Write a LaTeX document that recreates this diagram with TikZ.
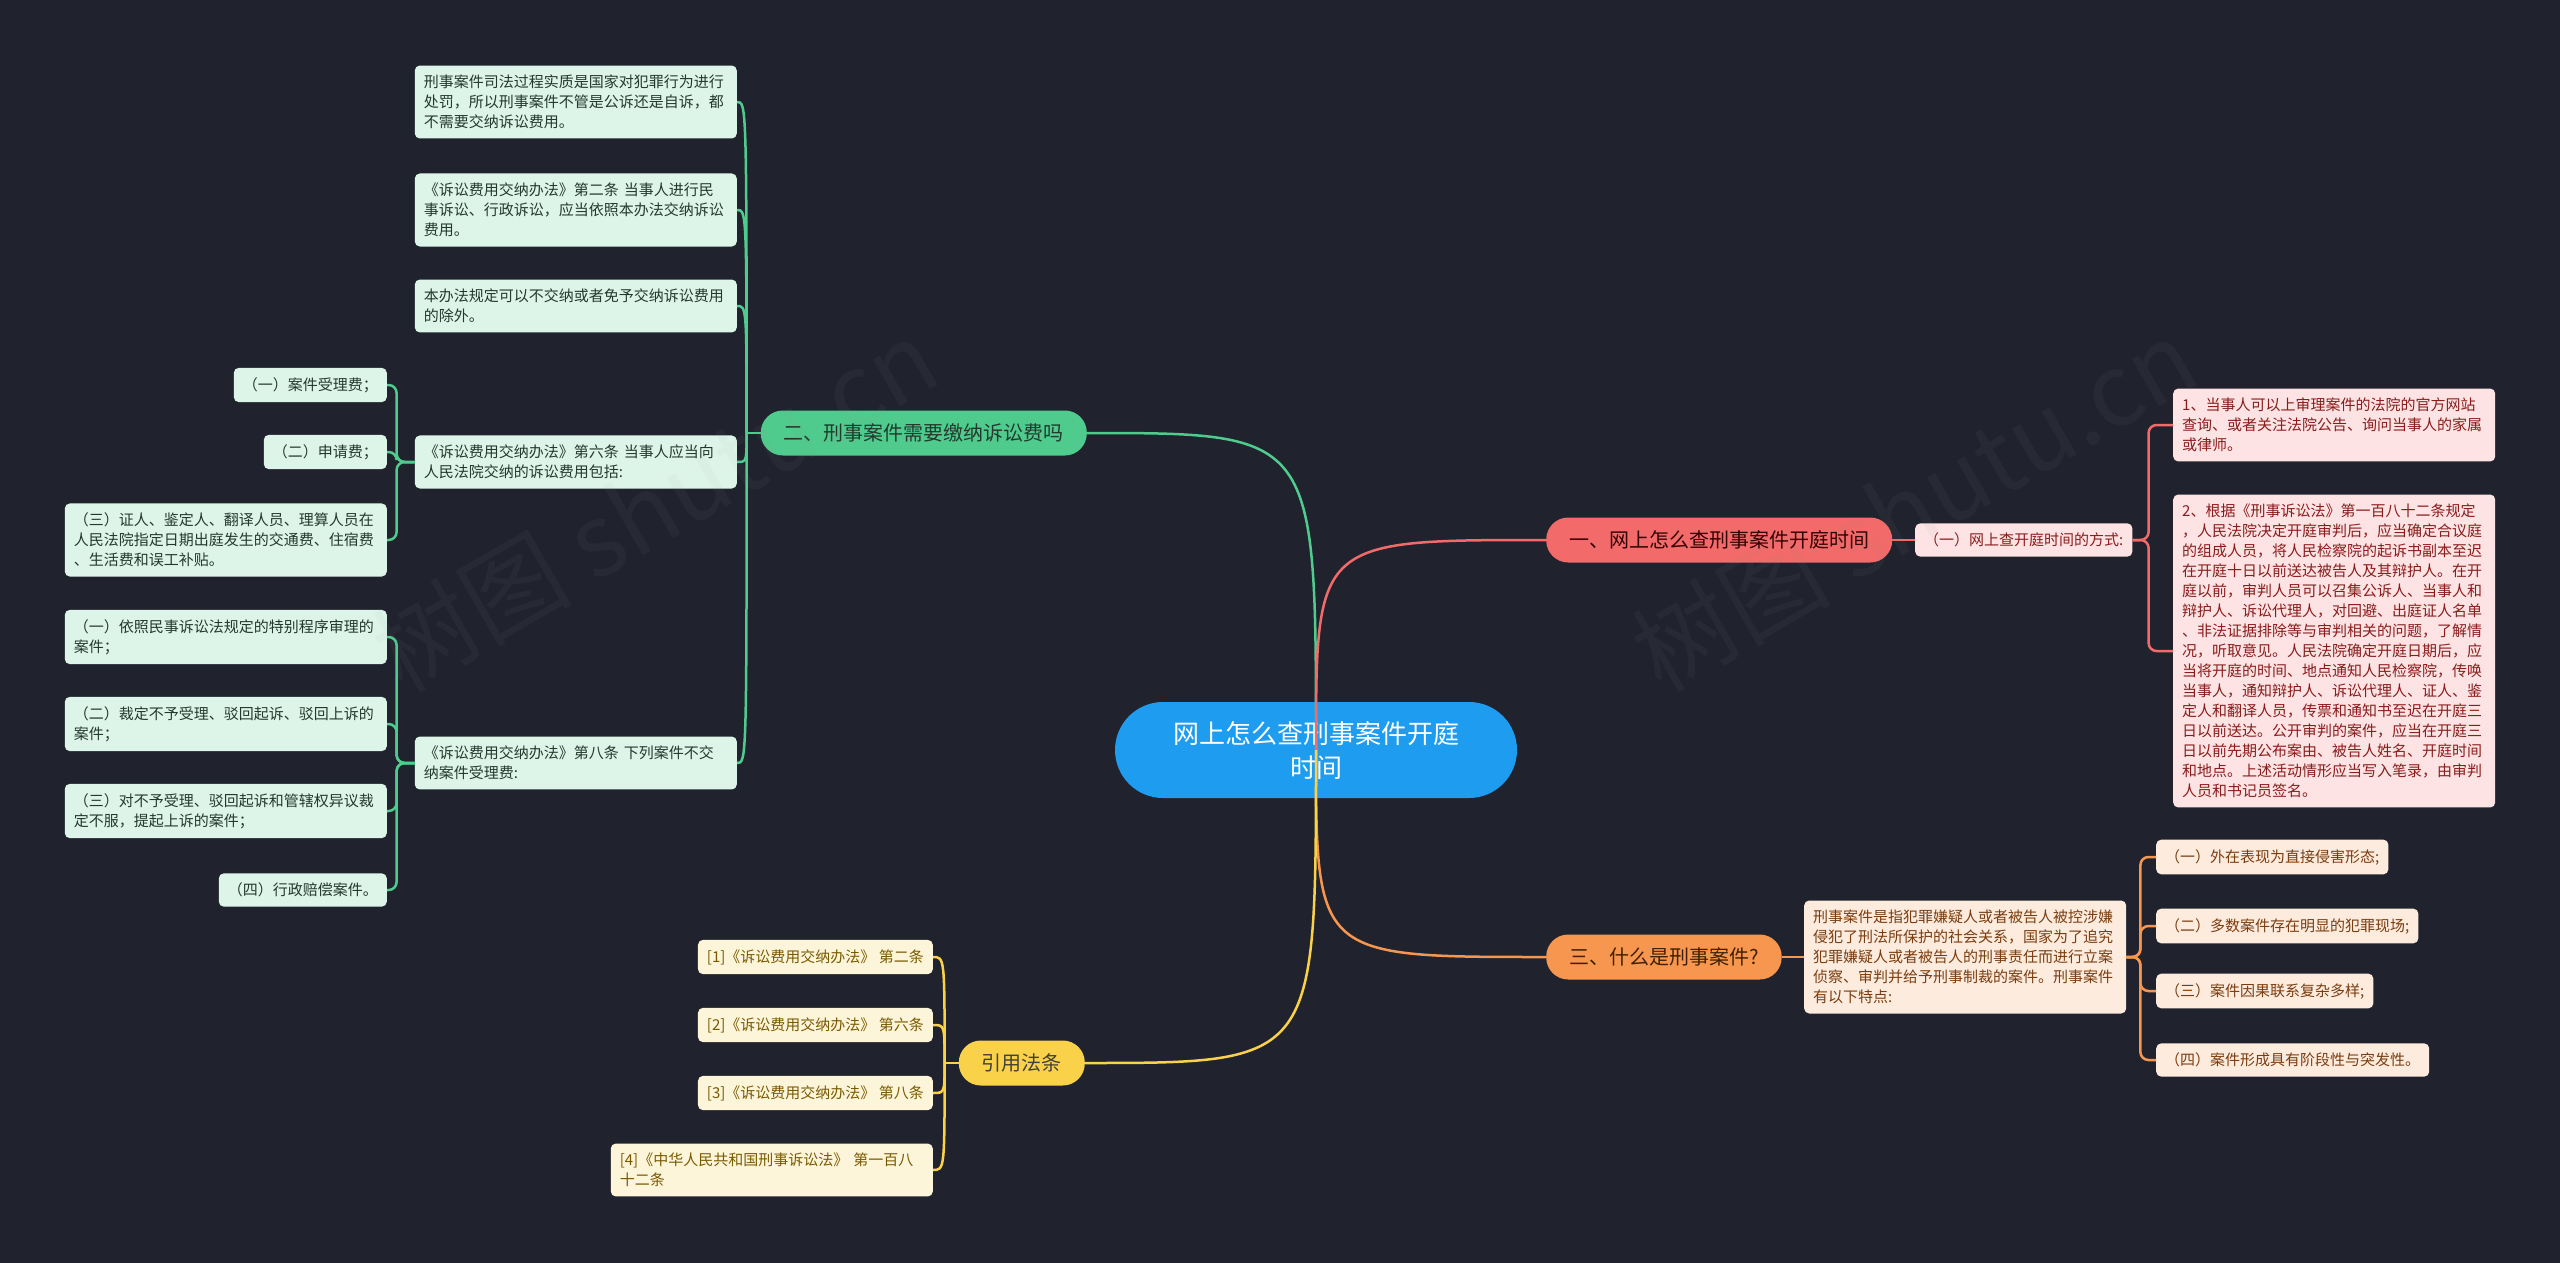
\documentclass[tikz,border=0pt]{standalone}
\usepackage{fontspec}
\setmainfont{Noto Sans CJK SC}
\usepackage{tikz}
\usetikzlibrary{calc}
\definecolor{bgdark}{HTML}{20232E}
\definecolor{rootblue}{HTML}{1E9CF0}
\definecolor{mintline}{HTML}{4ECB8D}
\definecolor{mintfill}{HTML}{DDF5E8}
\definecolor{minttext}{HTML}{24392E}
\definecolor{redline}{HTML}{F26A6A}
\definecolor{pinkfill}{HTML}{FDE3E3}
\definecolor{pinktext}{HTML}{8A1C1C}
\definecolor{orangeline}{HTML}{F7964F}
\definecolor{peachfill}{HTML}{FDEBDD}
\definecolor{peachtext}{HTML}{7A3D10}
\definecolor{yellowline}{HTML}{F9D24A}
\definecolor{creamfill}{HTML}{FDF5DA}
\definecolor{creamtext}{HTML}{7A5A00}

\begin{document}
\begin{tikzpicture}[x=1pt,y=-1pt,
	root/.style={fill=rootblue,text=white,rounded corners=48pt,minimum width=402pt,minimum height=96pt,align=center,font=\fontsize{26}{34}\selectfont},
	branch/.style={rounded corners=22pt,minimum height=45pt,inner xsep=23pt,font=\fontsize{20}{26}\selectfont},
	leaf/.style={rounded corners=5pt,inner xsep=9pt,inner ysep=9.5pt,align=left,font=\fontsize{15}{20}\selectfont},
	wide/.style={text width=304pt},
	mint/.style={leaf,fill=mintfill,text=minttext},
	pink/.style={leaf,fill=pinkfill,text=pinktext},
	peach/.style={leaf,fill=peachfill,text=peachtext},
	cream/.style={leaf,fill=creamfill,text=creamtext},
	watermark/.style={rotate=30,opacity=0.06,text=gray!80,font=\fontsize{100}{100}\selectfont},
	link/.style={line width=2.5pt}]
			\fill[bgdark] (0,0) rectangle (2560,1263);
			\useasboundingbox (0,0) rectangle (2560,1263);
			\node[root] (root) at (1316,750) {网上怎么查刑事案件开庭\\时间};
			\node[branch,fill=mintline,text=minttext,anchor=east] (green) at (1087,433) {二、刑事案件需要缴纳诉讼费吗};
			\node[branch,fill=redline,text=black!80!red,anchor=west] (red) at (1546,540) {一、网上怎么查刑事案件开庭时间};
			\node[branch,fill=orangeline,text=black!75!orange,anchor=west] (orange) at (1546,957) {三、什么是刑事案件?};
			\node[branch,fill=yellowline,text=black!85!yellow,anchor=east] (yellow) at (1085,1063) {引用法条};
			\node[pink,anchor=west] (pc) at (1915,540) {（一）网上查开庭时间的方式:};
			\node[pink,wide,anchor=west] (p1) at (2173,425) {1、当事人可以上审理案件的法院的官方网站\\查询、或者关注法院公告、询问当事人的家属\\或律师。};
			\node[pink,wide,anchor=west] (p2) at (2173,651) {2、根据《刑事诉讼法》第一百八十二条规定\\，人民法院决定开庭审判后，应当确定合议庭\\的组成人员，将人民检察院的起诉书副本至迟\\在开庭十日以前送达被告人及其辩护人。在开\\庭以前，审判人员可以召集公诉人、当事人和\\辩护人、诉讼代理人，对回避、出庭证人名单\\、非法证据排除等与审判相关的问题，了解情\\况，听取意见。人民法院确定开庭日期后，应\\当将开庭的时间、地点通知人民检察院，传唤\\当事人，通知辩护人、诉讼代理人、证人、鉴\\定人和翻译人员，传票和通知书至迟在开庭三\\日以前送达。公开审判的案件，应当在开庭三\\日以前先期公布案由、被告人姓名、开庭时间\\和地点。上述活动情形应当写入笔录，由审判\\人员和书记员签名。};
			\node[peach,wide,anchor=west] (od) at (1804,957) {刑事案件是指犯罪嫌疑人或者被告人被控涉嫌\\侵犯了刑法所保护的社会关系，国家为了追究\\犯罪嫌疑人或者被告人的刑事责任而进行立案\\侦察、审判并给予刑事制裁的案件。刑事案件\\有以下特点:};
			\node[peach,anchor=west] (o1) at (2156,857) {（一）外在表现为直接侵害形态;};
			\node[peach,anchor=west] (o2) at (2156,926) {（二）多数案件存在明显的犯罪现场;};
			\node[peach,anchor=west] (o3) at (2156,991) {（三）案件因果联系复杂多样;};
			\node[peach,anchor=west] (o4) at (2156,1060) {（四）案件形成具有阶段性与突发性。};
			\node[cream,anchor=east] (y1) at (933,957) {[1]《诉讼费用交纳办法》 第二条};
			\node[cream,anchor=east] (y2) at (933,1025) {[2]《诉讼费用交纳办法》 第六条};
			\node[cream,anchor=east] (y3) at (933,1093) {[3]《诉讼费用交纳办法》 第八条};
			\node[cream,wide,anchor=east] (y4) at (933,1170) {[4]《中华人民共和国刑事诉讼法》 第一百八\\十二条};
			\node[mint,wide,anchor=east] (g1) at (737,102) {刑事案件司法过程实质是国家对犯罪行为进行\\处罚，所以刑事案件不管是公诉还是自诉，都\\不需要交纳诉讼费用。};
			\node[mint,wide,anchor=east] (g2) at (737,210) {《诉讼费用交纳办法》第二条 当事人进行民\\事诉讼、行政诉讼，应当依照本办法交纳诉讼\\费用。};
			\node[mint,wide,anchor=east] (g3) at (737,306) {本办法规定可以不交纳或者免予交纳诉讼费用\\的除外。};
			\node[mint,wide,anchor=east] (g4) at (737,462) {《诉讼费用交纳办法》第六条 当事人应当向\\人民法院交纳的诉讼费用包括:};
			\node[mint,wide,anchor=east] (g5) at (737,763) {《诉讼费用交纳办法》第八条 下列案件不交\\纳案件受理费:};
			\node[mint,anchor=east] (ga) at (387,385) {（一）案件受理费；};
			\node[mint,anchor=east] (gb) at (387,452) {（二）申请费；};
			\node[mint,wide,anchor=east] (gc) at (387,540) {（三）证人、鉴定人、翻译人员、理算人员在\\人民法院指定日期出庭发生的交通费、住宿费\\、生活费和误工补贴。};
			\node[mint,wide,anchor=east] (gd) at (387,637) {（一）依照民事诉讼法规定的特别程序审理的\\案件；};
			\node[mint,wide,anchor=east] (ge) at (387,724) {（二）裁定不予受理、驳回起诉、驳回上诉的\\案件；};
			\node[mint,wide,anchor=east] (gf) at (387,811) {（三）对不予受理、驳回起诉和管辖权异议裁\\定不服，提起上诉的案件；};
			\node[mint,anchor=east] (gg) at (387,890) {（四）行政赔偿案件。};
			\draw[link,mintline] (green.west) -- ++(-14,0) coordinate (gj);
			\foreach \t in {g1,g2,g3,g4,g5}
				\draw[link,mintline] (gj) .. controls (gj |- \t.east) .. (\t.east);
			\foreach \t in {ga,gb,gc}
				\draw[link,mintline,rounded corners=8pt] (g4.west) -- ++(-18,0) |- (\t.east);
			\foreach \t in {gd,ge,gf,gg}
				\draw[link,mintline,rounded corners=8pt] (g5.west) -- ++(-18,0) |- (\t.east);
			\draw[link,redline] (red.east) -- (pc.west);
			\foreach \t in {p1,p2}
				\draw[link,redline,rounded corners=8pt] (pc.east) -- ++(16,0) |- (\t.west);
			\draw[link,orangeline] (orange.east) -- (od.west);
			\foreach \t in {o1,o2,o3,o4}
				\draw[link,orangeline,rounded corners=8pt] (od.east) -- ++(14,0) |- (\t.west);
			\draw[link,yellowline] (yellow.west) -- ++(-14,0) coordinate (yj);
			\foreach \t in {y1,y2,y3,y4}
				\draw[link,yellowline] (yj) .. controls (yj |- \t.east) .. (\t.east);
			\draw[link,mintline] (root.center) .. controls (root.center |- green.east) .. (green.east);
			\draw[link,redline] (root.center) .. controls (root.center |- red.west) .. (red.west);
			\draw[link,orangeline] (root.center) .. controls (root.center |- orange.west) .. (orange.west);
			\draw[link,yellowline] (root.center) .. controls (root.center |- yellow.east) .. (yellow.east);
			\node[watermark] (mark1) at (655,505) {树图 shutu.cn};
			\node[watermark] (mark2) at (1914,505) {树图 shutu.cn};
		\end{tikzpicture}
\end{document}
